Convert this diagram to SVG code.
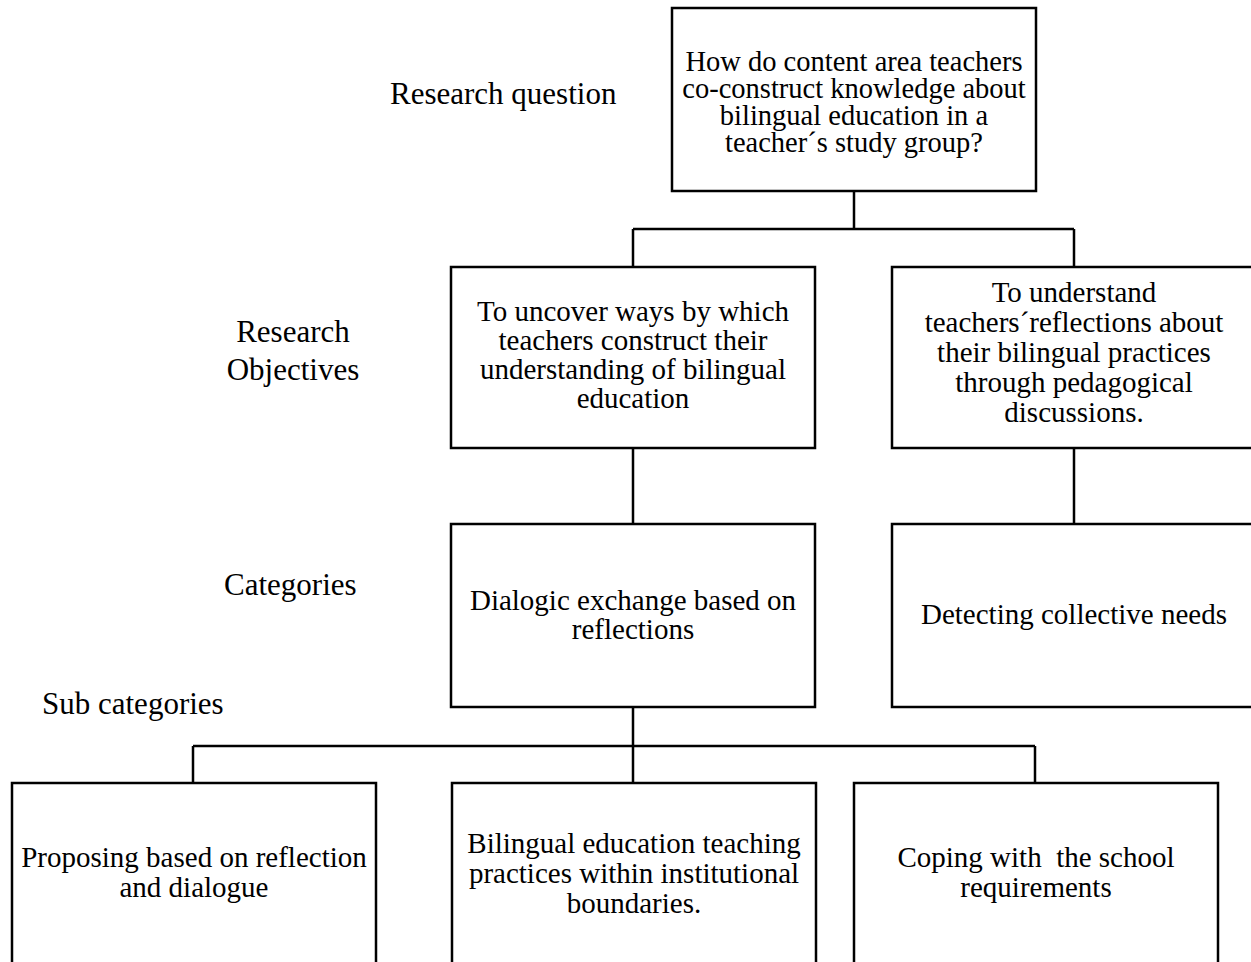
<svg xmlns="http://www.w3.org/2000/svg" width="1251" height="962" viewBox="0 0 1251 962">
<style>
.box{fill:#fff;stroke:#000;stroke-width:2.5}
.conn{fill:none;stroke:#000;stroke-width:2.5}
text{font-family:"Liberation Serif","Times New Roman",serif;fill:#000}
.t{font-size:29px;text-anchor:middle}
.tq{font-size:28.5px;text-anchor:middle}
.lab{font-size:31px}
.labc{font-size:31px;text-anchor:middle}
</style>
<rect width="1251" height="962" fill="#fff"/>
<g id="connectors">
<path class="conn" d="M854 191V229M633 229H1074M633 229V267M1074 229V267"/>
<path class="conn" d="M633 448V524M1074 448V524"/>
<path class="conn" d="M633 707V746M193 746H1035M193 746V783M633 746V783M1035 746V783"/>
</g>
<g id="labels">
<text class="lab" x="390" y="104">Research question</text>
<text class="labc" x="293" y="342">Research</text>
<text class="labc" x="293" y="380">Objectives</text>
<text class="lab" x="224" y="595">Categories</text>
<text class="lab" x="42" y="714">Sub categories</text>
</g>
<g id="node-question">
<rect class="box" x="672" y="8" width="364" height="183"/>
<text class="tq"><tspan x="854" y="71">How do content area teachers</tspan><tspan x="854" y="98">co-construct knowledge about</tspan><tspan x="854" y="125">bilingual education in a</tspan><tspan x="854" y="152">teacher´s study group?</tspan></text>
</g>
<g id="node-objective1">
<rect class="box" x="451" y="267" width="364" height="181"/>
<text class="t" x="633" y="321">To uncover ways by which</text>
<text class="t" x="633" y="350">teachers construct their</text>
<text class="t" x="633" y="379">understanding of bilingual</text>
<text class="t" x="633" y="408">education</text>
</g>
<g id="node-objective2">
<rect class="box" x="892" y="267" width="364" height="181"/>
<text class="t" x="1074" y="302">To understand</text>
<text class="t" x="1074" y="332">teachers´reflections about</text>
<text class="t" x="1074" y="362">their bilingual practices</text>
<text class="t" x="1074" y="392">through pedagogical</text>
<text class="t" x="1074" y="422">discussions.</text>
</g>
<g id="node-category1">
<rect class="box" x="451" y="524" width="364" height="183"/>
<text class="t" x="633" y="610">Dialogic exchange based on</text>
<text class="t" x="633" y="639">reflections</text>
</g>
<g id="node-category2">
<rect class="box" x="892" y="524" width="364" height="183"/>
<text class="t" x="1074" y="624">Detecting collective needs</text>
</g>
<g id="node-sub1">
<rect class="box" x="12" y="783" width="364" height="190"/>
<text class="t" x="194" y="867">Proposing based on reflection</text>
<text class="t" x="194" y="897">and dialogue</text>
</g>
<g id="node-sub2">
<rect class="box" x="452" y="783" width="364" height="190"/>
<text class="t" x="634" y="853">Bilingual education teaching</text>
<text class="t" x="634" y="883">practices within institutional</text>
<text class="t" x="634" y="913">boundaries.</text>
</g>
<g id="node-sub3">
<rect class="box" x="854" y="783" width="364" height="190"/>
<text class="t" x="1036" y="867" xml:space="preserve">Coping with  the school</text>
<text class="t" x="1036" y="897">requirements</text>
</g>
</svg>
